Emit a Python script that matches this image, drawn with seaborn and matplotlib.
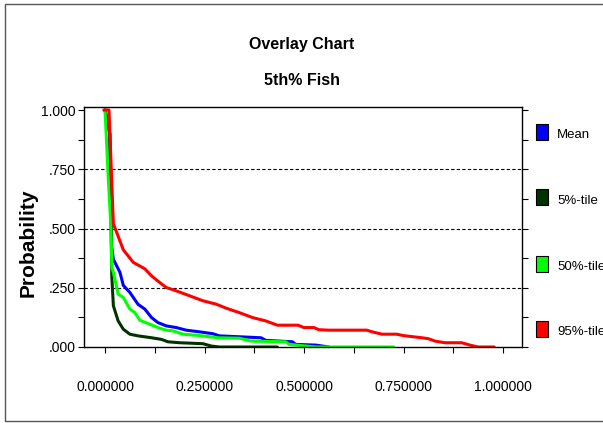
import matplotlib
matplotlib.use("Agg")
import matplotlib.pyplot as plt
import matplotlib.patches as mpatches
from matplotlib.ticker import MultipleLocator, FuncFormatter
import pandas as pd
import seaborn as sns

# Reverse cumulative curves
mean_x = [0.0, 0.012, 0.017, 0.021, 0.0375, 0.046, 0.0625, 0.083, 0.1, 0.117, 0.133, 0.154,
          0.179, 0.204, 0.2375, 0.271, 0.2875, 0.392, 0.404, 0.471, 0.479, 0.53, 0.5625]
mean_y = [1.0, 0.90, 0.42, 0.37, 0.315, 0.26, 0.23, 0.18, 0.16, 0.124, 0.103, 0.089,
          0.082, 0.071, 0.064, 0.056, 0.047, 0.039, 0.028, 0.022, 0.011, 0.008, 0.0]

p5_x = [0.0, 0.012, 0.017, 0.021, 0.033, 0.046, 0.0625, 0.083, 0.117, 0.142, 0.158,
        0.1875, 0.246, 0.267, 0.2875, 0.433]
p5_y = [1.0, 0.90, 0.30, 0.174, 0.11, 0.075, 0.054, 0.047, 0.039, 0.032, 0.022,
        0.018, 0.014, 0.004, 0.0, 0.0]

p50_x = [0.0, 0.008, 0.015, 0.017, 0.021, 0.033, 0.046, 0.0625, 0.075, 0.0875, 0.1125,
         0.1375, 0.154, 0.171, 0.196, 0.233, 0.283, 0.3375, 0.367, 0.454, 0.4625,
         0.53, 0.725]
p50_y = [1.0, 0.72, 0.50, 0.336, 0.315, 0.223, 0.209, 0.16, 0.145, 0.113, 0.096,
         0.079, 0.071, 0.068, 0.054, 0.049, 0.039, 0.037, 0.025, 0.022, 0.011,
         0.0, 0.0]

p95_x = [-0.003, 0.01, 0.021, 0.046, 0.071, 0.1, 0.117, 0.1375, 0.154, 0.179, 0.2125,
         0.246, 0.279, 0.304, 0.3375, 0.371, 0.404, 0.433, 0.485, 0.5, 0.525, 0.5375,
         0.5625, 0.658, 0.671, 0.696, 0.733, 0.75, 0.796, 0.8125, 0.829, 0.854, 0.896,
         0.917, 0.9375, 0.978]
p95_y = [1.0, 1.0, 0.52, 0.41, 0.357, 0.33, 0.30, 0.272, 0.251, 0.237, 0.216,
         0.195, 0.181, 0.164, 0.145, 0.124, 0.110, 0.092, 0.092, 0.082, 0.082, 0.073,
         0.071, 0.071, 0.064, 0.054, 0.054, 0.048, 0.039, 0.035, 0.025, 0.018, 0.018,
         0.008, 0.0, 0.0]

series_names = ["Mean", "5%-tile", "50%-tile", "95%-tile"]
series_colors = ["#0000ff", "#003300", "#00ff00", "#ff0000"]

sns.set_style("white")
plt.rcParams["font.family"] = ["Liberation Sans", "DejaVu Sans"]
plt.rcParams.update({
    "text.color": "black",
    "axes.labelcolor": "black",
    "xtick.color": "black",
    "ytick.color": "black",
})

fig = plt.figure(figsize=(6.03, 4.23), dpi=100)
W, H = 603.0, 423.0
ax = fig.add_axes([84 / W, 1 - 347 / H, (522 - 84) / W, (347 - 107.5) / H])

curves = [(mean_x, mean_y), (p5_x, p5_y), (p50_x, p50_y), (p95_x, p95_y)]
for (xs, ys), name, col in zip(curves, series_names, series_colors):
    df = pd.DataFrame({"x": xs, "y": ys})
    sns.lineplot(data=df, x="x", y="y", ax=ax, color=col, lw=2.2,
                 sort=False, estimator=None, legend=False)

ax.set_xlim(-0.0528, 1.0477)
ax.set_ylim(0, 1.0106)

for g in [0.25, 0.5, 0.75]:
    ax.axhline(g, color="black", lw=0.8, ls=(0, (3, 2)), zorder=0.5)

ax.xaxis.set_major_locator(MultipleLocator(0.25))
ax.xaxis.set_minor_locator(MultipleLocator(0.125))
ax.yaxis.set_major_locator(MultipleLocator(0.25))
ax.yaxis.set_minor_locator(MultipleLocator(0.125))
ax.xaxis.set_major_formatter(FuncFormatter(lambda v, p: f"{v:.6f}"))
ax.yaxis.set_major_formatter(
    FuncFormatter(lambda v, p: "1.000" if v >= 0.999 else f"{v:.3f}".lstrip("0")))

ax.tick_params(axis="x", which="both", direction="out", length=4, width=0.8,
               bottom=True, color="black", labelcolor="black")
ax.tick_params(axis="x", which="major", pad=20, labelsize=10)
ax.tick_params(axis="y", which="both", direction="out", length=4, width=0.8,
               left=True, right=True, color="black", labelcolor="black")
ax.tick_params(axis="y", which="major", pad=2, labelsize=10)

for sp in ax.spines.values():
    sp.set_color("black")
    sp.set_linewidth(1.0)

ax.set_xlabel("")
ax.set_ylabel("")

# titles and axis label
fig.text(302 / W, 1 - 44 / H, "Overlay Chart", ha="center", va="center",
         fontsize=11.5, fontweight="bold", color="black")
fig.text(302 / W, 1 - 80 / H, "5th% Fish", ha="center", va="center",
         fontsize=11.5, fontweight="bold", color="black")
fig.text(28 / W, 1 - 243 / H, "Probability", ha="center", va="center",
         rotation=90, fontsize=15, fontweight="bold", color="black")

# legend on the right
leg_y = [132, 197.5, 263.5, 329]
for name, col, yc in zip(series_names, series_colors, leg_y):
    fig.add_artist(mpatches.Rectangle((536 / W, 1 - (yc + 8) / H), 12 / W, 16 / H,
                                      transform=fig.transFigure, facecolor=col,
                                      edgecolor="black", lw=0.8))
    fig.text(557 / W, 1 - (yc + 3) / H, name, ha="left", va="center",
             fontsize=9.5, color="black")

# outer frame
fig.add_artist(mpatches.Rectangle((5 / W, 2 / H), 1.0, (421 - 4) / H,
                                  transform=fig.transFigure, fill=False,
                                  edgecolor="#555555", lw=1.0))

fig.savefig("out.png", dpi=100)
